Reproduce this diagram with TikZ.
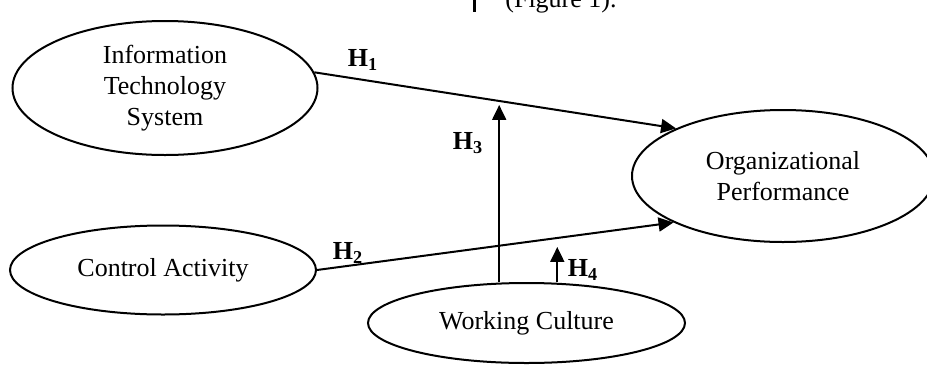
\documentclass[tikz,border=0pt]{standalone}
\usepackage{fontspec}
\setmainfont{Liberation Serif}
\usetikzlibrary{arrows.meta,positioning,calc,shapes.geometric}
\tikzset{
  >={Triangle[length=7.5pt,width=7pt]},
  every node/.style={font=\fontsize{13}{15.5}\selectfont},
  construct/.style={draw,ellipse,line width=1pt,inner sep=0pt,align=center},
  arrow/.style={->,line width=1pt},
  hyp/.style={font=\fontsize{13}{15.5}\selectfont\bfseries,inner sep=0pt},
}
\newcommand{\hyp}[1]{H\textsubscript{#1}}

\begin{document}
\begin{tikzpicture}[x=0.5pt,y=-0.5pt]
\useasboundingbox (0,0) rectangle (927,365);

% caption remnant at the top
\draw[line width=1.5pt] (474,0) -- (474,12);
\node[anchor=base west,inner sep=0pt] (cap) at (505,7) {(Figure 1).};

% constructs
\node[construct,minimum width=152.5pt,minimum height=67pt] (its) at (165,88) {Information\\Technology\\System};
\node[construct,minimum width=153pt,minimum height=44.5pt] (ca) at (163,270) {Control Activity};
\node[construct,minimum width=151pt,minimum height=66pt] (org) at (783,176) {Organizational\\Performance};
\node[construct,minimum width=158.5pt,minimum height=40pt] (wc) at (526.5,323) {Working Culture};

% direct paths
\draw[arrow] (its.6) -- coordinate[pos=0.511] (m1) (org.156);
\draw[arrow] (ca.east) -- coordinate[pos=0.674] (m2) (org.203);

% moderation
\draw[arrow,shorten >=2pt] (m1 |- wc.north) -- (m1);
\draw[arrow,shorten >=4.5pt] (m2 |- wc.north) -- (m2);

% labels
\node[hyp] (h1) at (363,60) {\hyp{1}};
\node[hyp] (h2) at (348,253) {\hyp{2}};
\node[hyp] (h3) at (468,143) {\hyp{3}};
\node[hyp] (h4) at (583,270) {\hyp{4}};

\end{tikzpicture}
\end{document}
